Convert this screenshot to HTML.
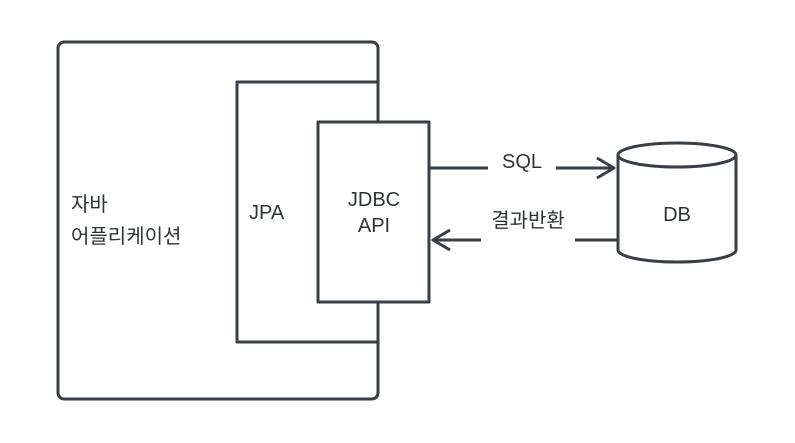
<!DOCTYPE html>
<html><head><meta charset="utf-8"><style>
html,body{margin:0;padding:0;background:#fff;width:795px;height:443px;overflow:hidden}
text{font-family:"Liberation Sans","Noto Sans CJK KR",sans-serif;font-size:20px;fill:#2e3338}
</style></head><body>
<svg width="795" height="443" viewBox="0 0 795 443" xmlns="http://www.w3.org/2000/svg">
<g fill="none" stroke="#3a3f45" stroke-width="3" stroke-linejoin="round">
<rect x="58" y="42" width="320" height="357" rx="6" fill="#fff"/>
<rect x="237" y="82" width="141" height="260" fill="#fff"/>
<rect x="318" y="122" width="111" height="180" fill="#fff"/>
<line x1="430" y1="168" x2="488" y2="168"/>
<line x1="556" y1="168" x2="614" y2="168"/>
<polyline points="597,158 614,168 597,178"/>
<line x1="617" y1="240" x2="575" y2="240"/>
<line x1="481" y1="240" x2="433" y2="240"/>
<polyline points="450,230 433,240 450,250"/>
<path d="M618,155 L618,250 A59,12 0 0 0 736,250 L736,155" fill="#fff"/>
<ellipse cx="677" cy="155" rx="59" ry="12" fill="#fff"/>
</g>
<text x="71" y="211">자바</text>
<text x="71" y="243">어플리케이션</text>
<text x="249" y="219">JPA</text>
<text x="374" y="206" text-anchor="middle">JDBC</text>
<text x="374" y="232" text-anchor="middle">API</text>
<text x="522" y="168" text-anchor="middle">SQL</text>
<text x="528" y="227" text-anchor="middle">결과반환</text>
<text x="677" y="221" text-anchor="middle">DB</text>
</svg>
</body></html>
